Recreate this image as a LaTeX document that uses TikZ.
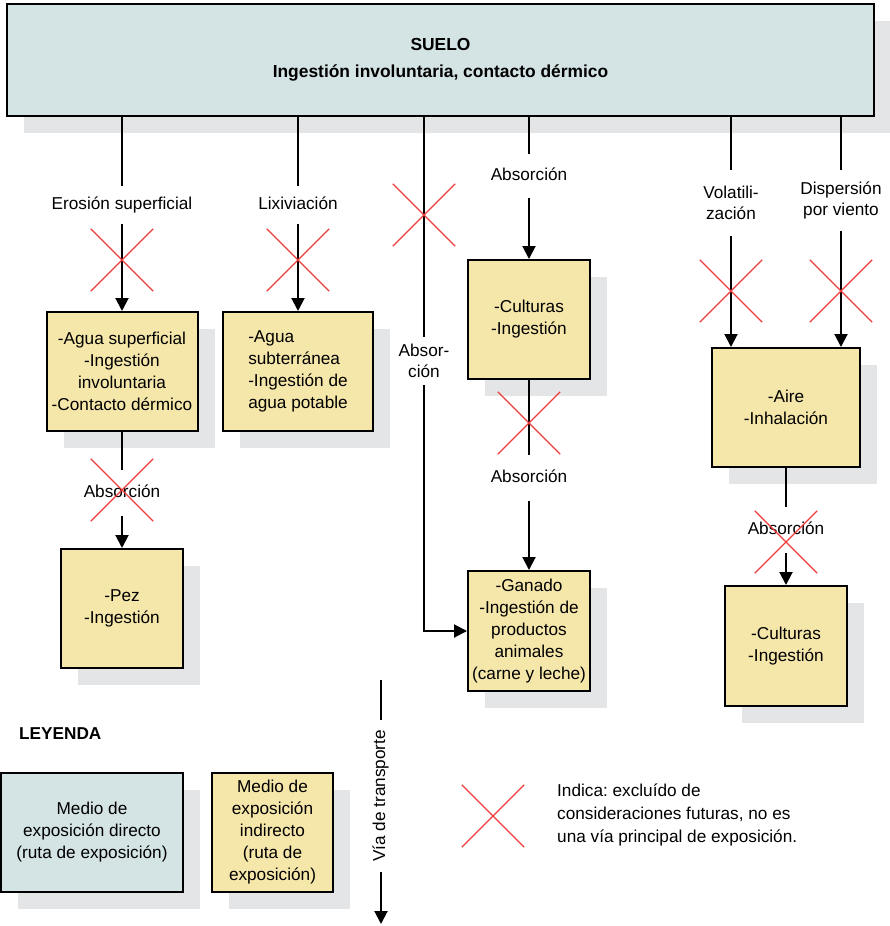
\documentclass[tikz,border=0pt]{standalone}
\usepackage{fontspec}
\setmainfont{Liberation Sans}
\usetikzlibrary{arrows.meta,shapes.misc,shadows}
\definecolor{directfill}{HTML}{D4E3E3}
\definecolor{indfill}{HTML}{F5E6A9}
\definecolor{shadowgray}{HTML}{E4E5E7}
\definecolor{xred}{HTML}{EE3B3B}
\frenchspacing
\begin{document}
\begin{tikzpicture}[x=1pt,y=-1pt,
  every node/.style={font=\fontsize{17.2}{22}\selectfont},
  medbox/.style={draw=black, line width=2pt, align=center, inner sep=2pt,
    drop shadow={shadow xshift=17pt, shadow yshift=-17pt, fill=shadowgray, opacity=1}},
  direct/.style={medbox, fill=directfill},
  indirect/.style={medbox, fill=indfill},
  lbl/.style={align=center, inner sep=0pt, font=\fontsize{17.2}{21}\selectfont},
  oneline/.style={text height=12pt, text depth=4pt},
  xmark/.style={cross out, draw=xred, line width=1.3pt, minimum size=61pt, inner sep=0pt},
  conn/.style={line width=2pt},
  arr/.style={conn, -{Triangle[width=13pt,length=13pt]}},
]
\useasboundingbox (0,0) rectangle (890,926);

% main boxes
\node[direct, minimum width=867pt, minimum height=112pt, font=\fontsize{17.4}{22}\selectfont\bfseries] (top) at (440.5,60)
  {SUELO\\[5pt]Ingestión involuntaria, contacto dérmico};
\node[indirect, minimum width=151pt, minimum height=119pt] (b1) at (122,371.5)
  {-Agua superficial\\-Ingestión\\involuntaria\\-Contacto dérmico};
\node[indirect, minimum width=150pt, minimum height=119pt, align=left] (b2) at (298,371.5)
  {-Agua\\subterránea\\-Ingestión de\\agua potable};
\node[indirect, minimum width=122pt, minimum height=119pt] (cult) at (529,319.5)
  {-Culturas\\-Ingestión};
\node[indirect, minimum width=122pt, minimum height=120pt] (gan) at (529,631)
  {-Ganado\\-Ingestión de\\productos\\animales\\(carne y leche)};
\node[indirect, minimum width=122pt, minimum height=119pt] (pez) at (122,608.5)
  {-Pez\\-Ingestión};
\node[indirect, minimum width=148pt, minimum height=119pt] (aire) at (786,407.5)
  {-Aire\\-Inhalación};
\node[indirect, minimum width=122pt, minimum height=120pt] (cult2) at (786,646)
  {-Culturas\\-Ingestión};

% labels
\node[lbl, oneline, minimum height=37pt] (l1) at (122,205) {Erosión superficial};
\node[lbl, oneline, minimum height=37pt] (l2) at (298,205) {Lixiviación};
\node[lbl, minimum height=48pt] (l3) at (424,361) {Absor-\\ción};
\node[lbl, oneline, minimum height=44pt] (l4) at (529,176) {Absorción};
\node[lbl, oneline, minimum height=46pt] (l5) at (529,478) {Absorción};
\node[lbl, oneline, minimum height=46pt] (l6) at (122,493) {Absorción};
\node[lbl, minimum height=66pt] (l7) at (731,203) {Volatili-\\zación};
\node[lbl, minimum height=61pt] (l8) at (841,200.5) {Dispersión\\por viento};
\node[lbl, oneline, minimum height=46pt] (l9) at (786,530) {Absorción};

% connectors
\draw[conn] (top.south -| l1.north) -- (l1.north);
\draw[arr] (l1.south) -- (b1.north);
\draw[conn] (top.south -| l2.north) -- (l2.north);
\draw[arr] (l2.south) -- (b2.north);
\draw[conn] (top.south -| l3.north) -- (l3.north);
\draw[arr] (l3.south) |- (gan.west);
\draw[conn] (top.south -| l4.north) -- (l4.north);
\draw[arr] (l4.south) -- (cult.north);
\draw[conn] (cult.south) -- (l5.north);
\draw[arr] (l5.south) -- (gan.north);
\draw[conn] (b1.south) -- (l6.north);
\draw[arr] (l6.south) -- (pez.north);
\draw[conn] (top.south -| l7.north) -- (l7.north);
\draw[arr] (l7.south) -- (l7.south |- aire.north);
\draw[conn] (top.south -| l8.north) -- (l8.north);
\draw[arr] (l8.south) -- (l8.south |- aire.north);
\draw[conn] (aire.south) -- (l9.north);
\draw[arr] (l9.south) -- (cult2.north);

% red crosses
\node[xmark] (x1) at (122,260) {};
\node[xmark] (x2) at (298,260) {};
\node[xmark] (x3) at (424,215) {};
\node[xmark] (x4) at (529,423) {};
\node[xmark] (x5) at (122,490) {};
\node[xmark] (x6) at (731,291) {};
\node[xmark] (x7) at (841,291) {};
\node[xmark] (x8) at (786,542) {};

% legend
\node[anchor=west, inner sep=0pt] (ley) at (19,734) {\textbf{LEYENDA}};
\node[direct, minimum width=182pt, minimum height=119pt] (leg1) at (92,832.5)
  {Medio de\\exposición directo\\(ruta de exposición)};
\node[indirect, minimum width=121pt, minimum height=119pt] (leg2) at (272.5,832.5)
  {Medio de\\exposición\\indirecto\\(ruta de\\exposición)};
\coordinate (vtop) at (381,680);
\coordinate (vbot) at (381,924);
\node[rotate=90, inner xsep=10pt, inner ysep=0pt, text height=12pt, text depth=4pt] (vt) at (381,796) {Vía de transporte};
\draw[conn] (vtop) -- (vt.east);
\draw[arr] (vt.west) -- (vbot);
\node[xmark] (xleg) at (493,816) {};
\node[anchor=west, align=left, inner sep=0pt, font=\fontsize{17.2}{23}\selectfont] (legtxt) at (557,815)
  {Indica: excluído de\\consideraciones futuras, no es\\una vía principal de exposición.};
\end{tikzpicture}
\end{document}
